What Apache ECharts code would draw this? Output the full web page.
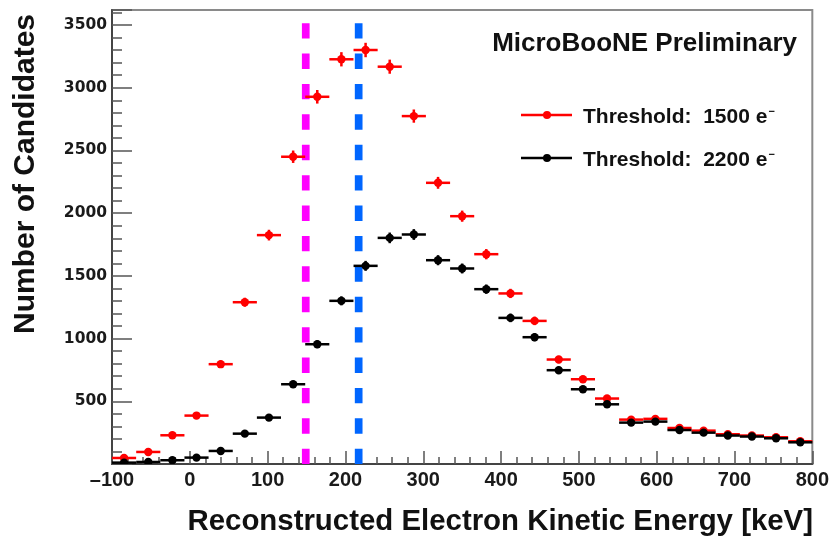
<!DOCTYPE html>
<html>
<head>
<meta charset="utf-8">
<script src="https://cdn.jsdelivr.net/npm/echarts@6/dist/echarts.min.js"></script>
<style>
  html, body { margin: 0; padding: 0; background: #fff; }
  #chart { width: 832px; height: 537px; }
</style>
</head>
<body>
<div id="chart"></div>
<script>
// bin centres (keV), 29 bins from -100 to 800
const binCenters = [-84.5, -53.4, -22.4, 8.6, 39.7, 70.7, 101.7, 132.8, 163.8, 194.8,
  225.9, 256.9, 287.9, 319.0, 350.0, 381.0, 412.1, 443.1, 474.1, 505.2,
  536.2, 567.2, 598.3, 629.3, 660.3, 691.4, 722.4, 753.4, 784.5];
const binHalfWidth = 15.5;

// Threshold 1500 e-
const counts1500 = [48, 96, 229, 386, 796, 1290, 1825, 2450, 2928, 3227,
  3301, 3168, 2774, 2242, 1976, 1673, 1360, 1141, 833, 676,
  522, 354, 360, 287, 266, 237, 227, 213, 181];
// Threshold 2200 e-
const counts2200 = [11, 16, 30, 51, 104, 242, 370, 636, 955, 1301,
  1580, 1803, 1830, 1625, 1559, 1394, 1165, 1011, 748, 596,
  476, 330, 338, 271, 250, 227, 219, 205, 173];

// dashed cut lines (keV)
const cutValues = [149, 217];
const cutColors = ["#ff00ff", "#0066ff"];
const cutTop = 3515;

const xTicks = [-100, 0, 100, 200, 300, 400, 500, 600, 700, 800];
const yTicks = [500, 1000, 1500, 2000, 2500, 3000, 3500];

const FONT = "'Liberation Sans', Arial, Helvetica, sans-serif";

function pointData(counts) {
  // x, y, poisson error
  return binCenters.map((x, i) => [x, counts[i], Math.sqrt(counts[i])]);
}

function errRender(color) {
  return function (params, api) {
    const x = api.value(0), y = api.value(1), e = api.value(2);
    const l = api.coord([x - binHalfWidth, y]);
    const r = api.coord([x + binHalfWidth, y]);
    const t = api.coord([x, y + e]);
    const b = api.coord([x, Math.max(0, y - e)]);
    const c = api.coord([x, y]);
    return {
      type: "group",
      children: [
        { type: "line", shape: { x1: l[0], y1: l[1], x2: r[0], y2: r[1] }, style: { stroke: color, lineWidth: 2.5 } },
        { type: "line", shape: { x1: t[0], y1: t[1], x2: b[0], y2: b[1] }, style: { stroke: color, lineWidth: 2.5 } },
        { type: "circle", shape: { cx: c[0], cy: c[1], r: 4.2 }, style: { fill: color } }
      ]
    };
  };
}

function cutRender(params, api) {
  const x = api.value(0);
  const top = api.coord([x, cutTop]);
  const bot = api.coord([x, 0]);
  return {
    type: "line",
    shape: { x1: top[0], y1: top[1], x2: bot[0], y2: bot[1] },
    style: { stroke: cutColors[params.dataIndex], lineWidth: 7.7, lineDash: [15.4, 15] }
  };
}

function legendRow(y, color, label) {
  return [
    { type: "line", shape: { x1: 521, y1: y, x2: 572, y2: y }, style: { stroke: color, lineWidth: 2.5 } },
    { type: "circle", shape: { cx: 547, cy: y, r: 4 }, style: { fill: color } },
    {
      type: "text", x: 583, y: y + 2,
      style: {
        text: "{a|" + label + "}{s|−}",
        rich: {
          a: { fontFamily: FONT, fontWeight: "bold", fontSize: 21, fill: "#111" },
          s: { fontFamily: FONT, fontWeight: "bold", fontSize: 11, fill: "#111", verticalAlign: "top", padding: [0, 0, 0, 1] }
        },
        verticalAlign: "middle"
      }
    }
  ];
}

const option = {
  animation: false,
  grid: {
    left: 112, right: 18, top: 10, bottom: 73,
    show: true, borderColor: "#8a8a8a", borderWidth: 2, backgroundColor: "transparent"
  },
  xAxis: {
    type: "value", min: -100, max: 800, interval: 100,
    axisLine: { onZero: false, lineStyle: { color: "#444", width: 2 } },
    axisTick: { inside: true, length: 13, lineStyle: { color: "#555", width: 1.5 } },
    minorTick: { show: true, splitNumber: 5, length: 7, lineStyle: { color: "#555", width: 1.5 } },
    splitLine: { show: false },
    axisLabel: {
      margin: 6, fontFamily: FONT, fontWeight: "bold", fontSize: 20, color: "#1a1a1a",
      formatter: v => xTicks.indexOf(v) >= 0 ? String(v).replace("-", "\u2013") : ""
    }
  },
  yAxis: {
    type: "value", min: 0, max: 3620, interval: 500,
    axisLine: { show: true, onZero: false, lineStyle: { color: "#444", width: 2 } },
    axisTick: { show: true, inside: true, length: 20, lineStyle: { color: "#555", width: 1.5 } },
    minorTick: { show: true, splitNumber: 5, length: 10, lineStyle: { color: "#555", width: 1.5 } },
    splitLine: { show: false },
    axisLabel: {
      margin: 5, fontFamily: "'DejaVu Sans', sans-serif", fontWeight: "bold", fontSize: 15.5, color: "#1a1a1a",
      formatter: v => yTicks.indexOf(v) >= 0 ? String(v) : ""
    }
  },
  series: [
    {
      type: "custom", name: "cuts", z: 1, clip: true,
      data: cutValues.map(v => [v, 0]),
      renderItem: cutRender
    },
    {
      type: "custom", name: "Threshold: 1500 e-", z: 2, clip: true,
      data: pointData(counts1500),
      renderItem: errRender("#ff0000")
    },
    {
      type: "custom", name: "Threshold: 2200 e-", z: 3, clip: true,
      data: pointData(counts2200),
      renderItem: errRender("#000000")
    }
  ],
  graphic: [
    {
      type: "text", x: 797, y: 44,
      style: { text: "MicroBooNE Preliminary", fontFamily: FONT, fontWeight: "bold", fontSize: 26, fill: "#111", align: "right", verticalAlign: "middle" }
    },
    ...legendRow(115, "#ff0000", "Threshold:  1500 e"),
    ...legendRow(158, "#000000", "Threshold:  2200 e"),
    {
      type: "text", x: 813, y: 522,
      style: { text: "Reconstructed Electron Kinetic Energy [keV]", fontFamily: FONT, fontWeight: "bold", fontSize: 29.4, fill: "#111", align: "right", verticalAlign: "middle" }
    },
    {
      type: "text", x: 26, y: 174, rotation: Math.PI / 2,
      style: { text: "Number of Candidates", fontFamily: FONT, fontWeight: "bold", fontSize: 30, fill: "#111", align: "center", verticalAlign: "middle" }
    }
  ]
};

const myChart = echarts.init(document.getElementById("chart"), null, { renderer: "canvas" });
myChart.setOption(option);
window.addEventListener("resize", () => myChart.resize());
</script>
</body>
</html>
